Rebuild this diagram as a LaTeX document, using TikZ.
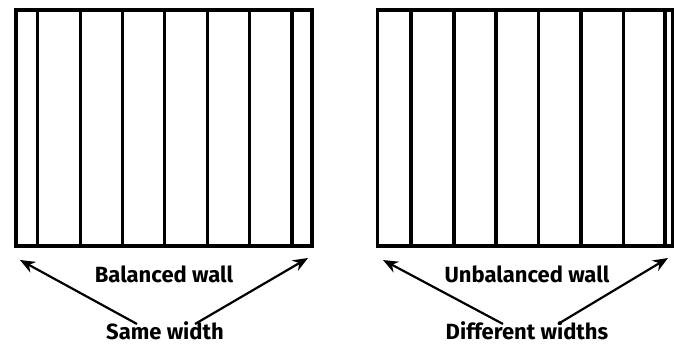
\documentclass[tikz,border=0pt]{standalone}
\usepackage{fontspec}
\setmainfont{Fira Sans}
\usetikzlibrary{arrows.meta}
\begin{document}
\begin{tikzpicture}[x=1pt,y=-1pt,
  wall/.style={line width=3.2pt},
  board/.style={line width=3.2pt},
  pointer/.style={line width=2.2pt,-{Stealth[length=15pt,width=12pt]}},
  lbl/.style={font=\fontsize{22}{26}\selectfont\bfseries, inner sep=0pt}]
\useasboundingbox (0,0) rectangle (674,348);
% left wall
\draw[wall] (16,10) rectangle (312,246);
\foreach \x in {37.3,80.3,122.3,164.7,207.3,249.3,292}
  \draw[board] (\x,10) -- (\x,246);
% right wall
\draw[wall] (377.7,10) rectangle (673,246);
\foreach \x in {411,454,496,538.7,581,623.3,665}
  \draw[board] (\x,10) -- (\x,246);
% labels
\node[lbl] (bal) at (164,274) {Balanced wall};
\node[lbl] (same) at (165,331) {Same width};
\node[lbl] (unbal) at (527,274) {Unbalanced wall};
\node[lbl] (diff) at (527,331) {Different widths};
% arrow coordinates
\coordinate (s1) at (137,324);
\coordinate (s2) at (195,324);
\coordinate (t1) at (20,260);
\coordinate (t2) at (308,258);
\coordinate (d1) at (503,324);
\coordinate (d2) at (558,324);
\coordinate (u1) at (383,260);
\coordinate (u2) at (668,258);
\draw[pointer] (s1) -- (t1);
\draw[pointer] (s2) -- (t2);
\draw[pointer] (d1) -- (u1);
\draw[pointer] (d2) -- (u2);
\end{tikzpicture}
\end{document}
